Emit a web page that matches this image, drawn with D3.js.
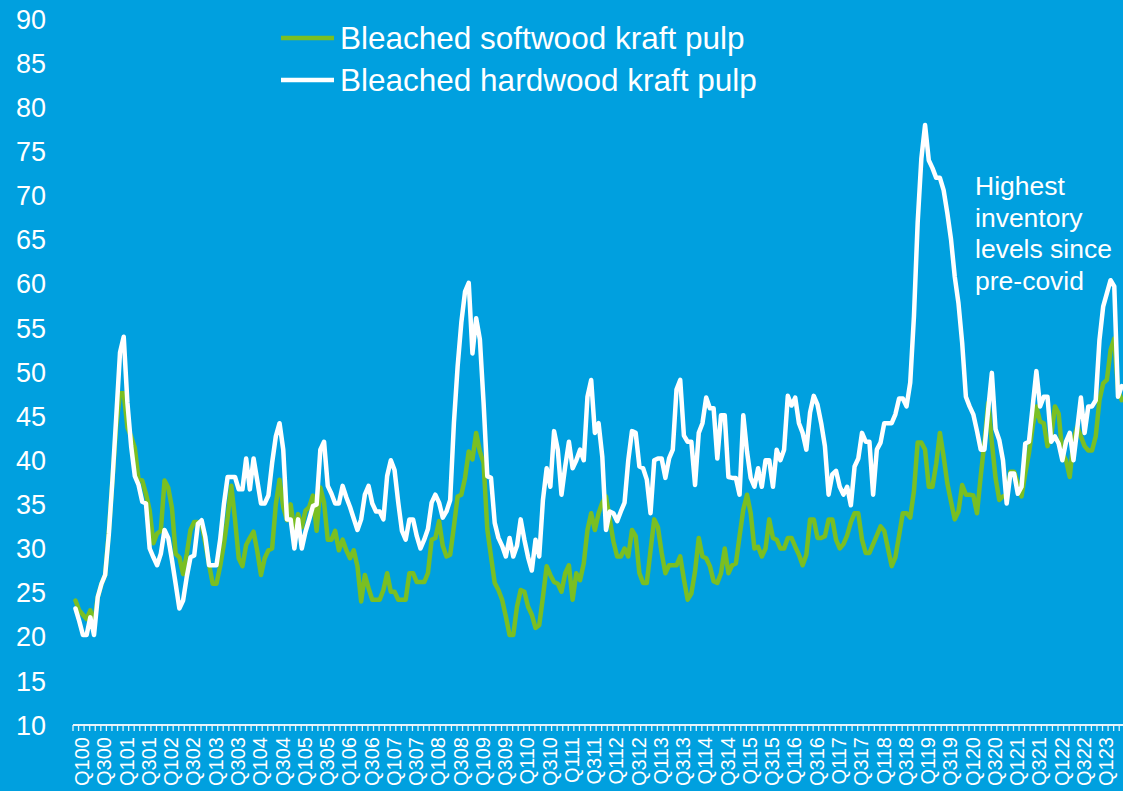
<!DOCTYPE html>
<html>
<head>
<meta charset="utf-8">
<script src="https://cdn.jsdelivr.net/npm/d3@7"></script>
<style>
  html, body { margin: 0; padding: 0; background: #00a0df; }
  svg { display: block; font-family: "Liberation Sans", Arial, sans-serif; }
</style>
</head>
<body>
<svg id="chart" width="1123" height="791"></svg>
<script>
// Monthly pulp inventory (days of supply), Jan 2000 onwards
const softwood = [
  24.1, 23, 22.5, 22, 23, 21.5, 24.5, 26, 27, 32, 38, 44, 47.6, 47.6, 43.7, 42.7, 41.4, 37.8, 37.7, 36.2,
  34.3, 30.6, 31.7, 32, 37.7, 36.9, 34.6, 29.4, 29, 27.1, 29.4, 32.1, 33, 33, 32.8, 30.6, 28.2, 26, 26, 28,
  30.5, 33.5, 37.1, 33.3, 28.9, 28, 30.4, 31.2, 31.9, 29.7, 27, 28.9, 29.8, 30, 35, 37.8, 34.7, 33.2, 35, 32,
  33.9, 32.4, 34.3, 34.7, 36, 32, 36.9, 35.2, 31, 31, 32, 29.8, 31, 29.8, 28.9, 29.8, 28, 24, 27, 25.5,
  24.2, 24.2, 24.2, 25.3, 27.2, 25.1, 25.1, 24.2, 24.2, 24.2, 27.2, 27.2, 26.2, 26.2, 26.2, 27.2, 31, 31.2, 33.1, 30.3,
  29.1, 29.3, 32.5, 35.9, 36.1, 38, 41, 40.1, 43.1, 41, 39.7, 32.2, 29.1, 26.1, 25.3, 24.2, 22.3, 20.2, 20.2, 23.4,
  25.3, 25.1, 23.4, 22.5, 21, 21.3, 24.5, 28, 27, 26.2, 26, 25.1, 27.2, 28.1, 24.2, 27.2, 26.4, 28.3, 32.1, 34,
  32.1, 34, 35.2, 35.9, 33.3, 30.8, 29.1, 29.1, 30, 29.1, 32.1, 31.4, 27.2, 26.1, 26.1, 29.8, 33.3, 32.4, 29.5, 27.2,
  28.1, 28.1, 28.1, 29.1, 26.5, 24.2, 24.9, 27.4, 31.2, 29.1, 28.9, 28, 26.3, 26.1, 27.2, 30, 27.2, 28.1, 28.3, 31.4,
  34.4, 36.1, 34, 30, 30.2, 29.1, 30, 33.3, 31.2, 31, 30, 30, 31.2, 31.2, 30.2, 29.3, 28.1, 29.3, 33.3, 33.3,
  31.2, 31.2, 31.4, 33.3, 33.3, 31, 30, 30.5, 31.5, 33, 34, 34, 31, 29.5, 29.5, 30.5, 31.5, 32.5, 32, 30,
  28, 29, 31.5, 34, 34, 33.5, 36.5, 42, 42, 41.2, 37, 37, 39.6, 43.1, 40.4, 37.4, 35.3, 33.3, 34.2, 37.2,
  36.1, 36.1, 36, 34, 38.2, 42, 46.5, 42, 38, 35.5, 35.9, 36, 38.7, 38.7, 37.4, 35.9, 38.5, 40.8, 43.8, 46.1,
  44.4, 44.2, 41.6, 42.7, 46.1, 45.3, 40.8, 40, 38.1, 42.3, 43.8, 42.7, 41.6, 41.1, 41.1, 42.7, 46.8, 48.7, 49.1, 52.5,
  53.8, 48, 46.8
];
const hardwood = [
  23.2, 21.8, 20.2, 20.2, 22.2, 20.2, 24.5, 26, 27, 31.7, 38, 45, 52.2, 54, 46.5, 41.6, 38.2, 37.2, 35.3, 35.1,
  30, 29, 28.1, 29.4, 32.1, 31.2, 28.7, 26, 23.2, 24.1, 26.8, 29, 29.2, 32.8, 33.2, 31.3, 28.1, 28.1, 28.1, 31,
  35, 38.1, 38.1, 38.1, 36.7, 36.7, 40.2, 36.7, 40.2, 37.7, 35.1, 35.1, 36, 39.7, 42.7, 44.2, 41.2, 33.3, 33.3, 30,
  33.3, 30, 31.9, 33.3, 34.8, 35, 41.2, 42.1, 37.1, 36.2, 35.1, 35.1, 37.1, 35.8, 34.7, 33.4, 32.1, 33.3, 36.1, 37.1,
  35.1, 34.2, 34.2, 33.3, 38.2, 40, 38.9, 35.2, 32, 31, 33.3, 33.3, 31.4, 30, 31, 32.2, 35.2, 36.1, 35.2, 33.5,
  34.2, 35.5, 44.2, 50.6, 55.6, 59.1, 60.1, 52.1, 56.1, 53.7, 46.5, 38.2, 38, 32.9, 31.2, 30.3, 29.1, 31.2, 29.1, 30.3,
  33.3, 31, 29, 27.5, 31, 29.1, 35.5, 39.1, 37, 43.3, 41.2, 36.1, 39.3, 42.1, 39.1, 40, 41.2, 40, 47.2, 49.1,
  43.1, 44.2, 40.4, 32.1, 34.2, 34, 33.1, 34.2, 35.2, 40, 43.3, 43.1, 39.3, 39.1, 37.8, 34, 40, 40.2, 40.2, 38,
  40.2, 41.2, 48, 49.1, 42.8, 42.1, 42.1, 37.2, 43.1, 44.2, 47.1, 45.9, 45.9, 40.2, 45.1, 45.1, 38.1, 38, 38, 36.1,
  45.1, 41, 38, 37, 39.1, 37, 40, 40, 37, 41.2, 40, 41.2, 47.3, 46.2, 47.1, 44.2, 43.1, 41.2, 45.4, 47.3,
  46.3, 44.2, 41.6, 36.1, 38.4, 38.8, 37, 36.1, 37, 34.9, 39.3, 40.2, 43.1, 42.1, 42.1, 36.1, 41.2, 42, 44.2, 44.2,
  44.2, 45.2, 47, 47, 46.1, 48.8, 56.3, 66.9, 74.2, 78, 74, 73.1, 72, 72, 70.6, 68, 65, 60.8, 57.8, 53.3,
  47.2, 46.1, 45.2, 43.3, 41.2, 41.2, 45.7, 49.9, 43.5, 42.3, 40, 35.1, 38.5, 38.5, 36.2, 37, 41.9, 42.1, 46.1, 50.1,
  46.1, 47.2, 47.2, 42.1, 42.7, 41.9, 40, 42.1, 43.1, 40, 43.5, 47.1, 43.1, 46.1, 46.1, 46.8, 53.6, 57.4, 58.9, 60.4,
  59.7, 47.2, 48.4
];

// Half-yearly axis labels
const xLabels = [];
for (let yr = 0; yr <= 23; yr++) {
  const yy = String(yr).padStart(2, "0");
  xLabels.push("Q1" + yy);
  if (yr < 23) xLabels.push("Q3" + yy);
}
const yTicks = d3.range(10, 95, 5);
const seriesNames = ["Bleached softwood kraft pulp", "Bleached hardwood kraft pulp"];
const noteLines = ["Highest", "inventory", "levels since", "pre-covid"];

const BG = "#00a0df", GREEN = "#7abf22", WHITE = "#ffffff";

const svg = d3.select("#chart");
svg.append("rect").attr("width", 1123).attr("height", 791).attr("fill", BG);

// month index -> px
const x = d3.scaleLinear().domain([-0.67, 282.35]).range([73, 1123]);
const y = d3.scaleLinear().domain([10, 90]).range([725, 19]);

// y labels (no axis line)
svg.append("g")
  .selectAll("text")
  .data(yTicks)
  .join("text")
  .attr("x", 46)
  .attr("y", d => y(d))
  .attr("dy", "0.36em")
  .attr("text-anchor", "end")
  .attr("fill", WHITE)
  .attr("font-size", 27)
  .text(d => d);

// x axis line + ticks
const xAxis = svg.append("g");
xAxis.append("line")
  .attr("x1", x(-0.67)).attr("x2", 1123)
  .attr("y1", 725).attr("y2", 725)
  .attr("stroke", "#e6f4fb").attr("stroke-width", 2);
xAxis.selectAll("line.tick")
  .data(d3.range(-0.67, 283, 1.5))
  .join("line")
  .attr("class", "tick")
  .attr("x1", d => x(d)).attr("x2", d => x(d))
  .attr("y1", 725).attr("y2", 731)
  .attr("stroke", "#e6f4fb").attr("stroke-width", 1.3);

xAxis.selectAll("text")
  .data(xLabels)
  .join("text")
  .attr("transform", (d, i) => `translate(${x(6 * i + 1.75)},737) rotate(-90)`)
  .attr("dy", "0.36em")
  .attr("text-anchor", "end")
  .attr("fill", WHITE)
  .attr("font-size", 20)
  .text(d => d);

// series lines
const line = d3.line()
  .x((d, i) => x(i))
  .y(d => y(d))
  .curve(d3.curveLinear);

svg.append("path")
  .datum(softwood)
  .attr("d", line)
  .attr("fill", "none")
  .attr("stroke", GREEN)
  .attr("stroke-width", 4.5)
  .attr("stroke-linejoin", "round")
  .attr("stroke-linecap", "round");

svg.append("path")
  .datum(hardwood)
  .attr("d", line)
  .attr("fill", "none")
  .attr("stroke", WHITE)
  .attr("stroke-width", 4.5)
  .attr("stroke-linejoin", "round")
  .attr("stroke-linecap", "round");

// legend
const legend = svg.append("g");
const legendRows = legend.selectAll("g")
  .data(seriesNames)
  .join("g")
  .attr("transform", (d, i) => `translate(281,${38 + i * 42})`);
legendRows.append("line")
  .attr("x1", 0).attr("x2", 53)
  .attr("stroke", (d, i) => i === 0 ? GREEN : WHITE)
  .attr("stroke-width", 4.5);
legendRows.append("text")
  .attr("x", 59)
  .attr("dy", "0.36em")
  .attr("fill", WHITE)
  .attr("font-size", 31.5)
  .text(d => d);

// annotation
svg.append("g")
  .selectAll("text")
  .data(noteLines)
  .join("text")
  .attr("x", 975)
  .attr("y", (d, i) => 195 + i * 31.5)
  .attr("fill", WHITE)
  .attr("font-size", 26.5)
  .text(d => d);
</script>
</body>
</html>
